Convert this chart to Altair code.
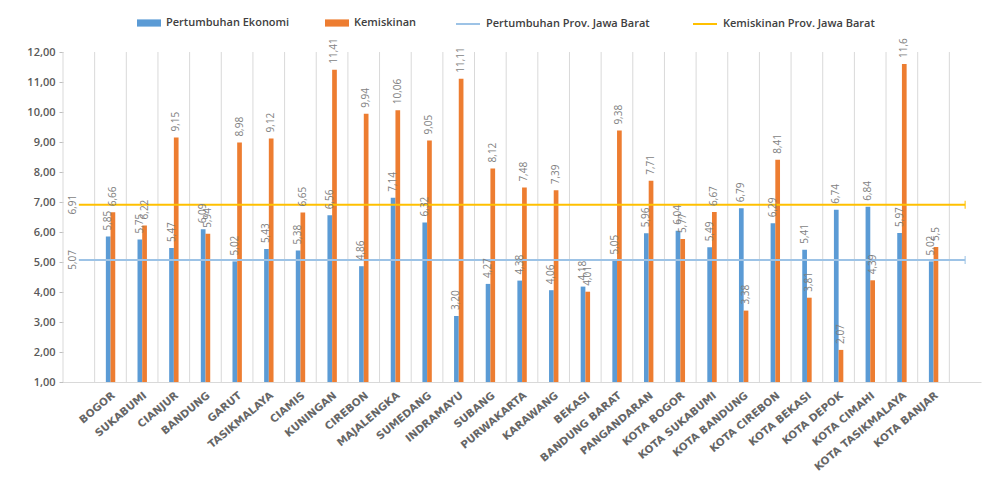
import altair as alt
import pandas as pd

regions = ["BOGOR", "SUKABUMI", "CIANJUR", "BANDUNG", "GARUT", "TASIKMALAYA", "CIAMIS",
           "KUNINGAN", "CIREBON", "MAJALENGKA", "SUMEDANG", "INDRAMAYU", "SUBANG",
           "PURWAKARTA", "KARAWANG", "BEKASI", "BANDUNG BARAT", "PANGANDARAN",
           "KOTA BOGOR", "KOTA SUKABUMI", "KOTA BANDUNG", "KOTA CIREBON", "KOTA BEKASI",
           "KOTA DEPOK", "KOTA CIMAHI", "KOTA TASIKMALAYA", "KOTA BANJAR"]
growth = [5.85, 5.75, 5.47, 6.09, 5.02, 5.43, 5.38, 6.56, 4.86, 7.14, 6.32, 3.20, 4.27,
          4.38, 4.06, 4.18, 5.05, 5.96, 6.04, 5.49, 6.79, 6.29, 5.41, 6.74, 6.84, 5.97, 5.02]
growth_labels = ["5,85", "5,75", "5,47", "6,09", "5,02", "5,43", "5,38", "6,56", "4,86",
                 "7,14", "6,32", "3,20", "4,27", "4,38", "4,06", "4,18", "5,05", "5,96",
                 "6,04", "5,49", "6,79", "6,29", "5,41", "6,74", "6,84", "5,97", "5,02"]
poverty = [6.66, 6.22, 9.15, 5.94, 8.98, 9.12, 6.65, 11.41, 9.94, 10.06, 9.05, 11.11, 8.12,
           7.48, 7.39, 4.01, 9.38, 7.71, 5.77, 6.67, 3.38, 8.41, 3.81, 2.07, 4.39, 11.6, 5.5]
poverty_labels = ["6,66", "6,22", "9,15", "5,94", "8,98", "9,12", "6,65", "11,41", "9,94",
                  "10,06", "9,05", "11,11", "8,12", "7,48", "7,39", "4,01", "9,38", "7,71",
                  "5,77", "6,67", "3,38", "8,41", "3,81", "2,07", "4,39", "11,6", "5,5"]
prov_growth = 5.07
prov_poverty = 6.91
prov_labels = ["5,07", "6,91"]
y_ticks = [1, 2, 3, 4, 5, 6, 7, 8, 9, 10, 11, 12]

bar_series = ["Pertumbuhan Ekonomi", "Kemiskinan"]
bar_colors = ["#5B9BD5", "#ED7D31"]
line_series = ["Pertumbuhan Prov. Jawa Barat", "Kemiskinan Prov. Jawa Barat"]
line_colors = ["#9DC3E6", "#FFC000"]

START, END = "START", "END"
x_domain = [START] + regions + [END]

bars = pd.DataFrame({
    "region": regions * 2,
    "series": [bar_series[0]] * len(regions) + [bar_series[1]] * len(regions),
    "value": growth + poverty,
    "label": growth_labels + poverty_labels,
})
lines = pd.DataFrame({
    "region": [START, END, START, END],
    "series": [line_series[0]] * 2 + [line_series[1]] * 2,
    "value": [prov_growth, prov_growth, prov_poverty, prov_poverty],
})
line_labels = pd.DataFrame({
    "region": [START, START],
    "value": [prov_growth, prov_poverty],
    "label": prov_labels,
})
line_ends = lines[lines["region"] == END]
grid = pd.DataFrame({"region": x_domain})

xscale = alt.Scale(domain=x_domain, paddingInner=0, paddingOuter=0)
yscale = alt.Scale(domain=[1, 12], nice=False, zero=False)
color_scale = alt.Scale(domain=bar_series, range=bar_colors)
stroke_scale = alt.Scale(domain=line_series, range=line_colors)
off_scale = alt.Scale(domain=bar_series, paddingInner=0, paddingOuter=0, range=[11.2, 20.6])

legend_common = dict(
    title=None, orient="none", direction="horizontal", columns=2, symbolSize=576,
    labelOffset=5, labelFont="Open Sans", labelFontSize=11, labelFontWeight=600,
    labelColor="#404040", labelLimit=400,
)
bar_legend = alt.Legend(legendX=74, legendY=-41, columnPadding=35,
                        symbolType="M-1,-0.3H1V0.3H-1Z", symbolStrokeWidth=0,
                        **legend_common)
line_legend = alt.Legend(legendX=392, legendY=-41, columnPadding=39,
                         symbolType="stroke", symbolStrokeWidth=2, **legend_common)

x_axis = alt.Axis(
    title=None, labelAngle=-40, labelAlign="right", labelBaseline="top", labelPadding=8,
    ticks=False, grid=False, domainColor="#D9D9D9",
    labelFont="DejaVu Sans", labelFontSize=10.5, labelFontWeight="bold", labelColor="#666666",
    labelExpr="datum.label == 'START' || datum.label == 'END' ? '' : datum.label",
    labelOverlap=False, labelLimit=300,
)
y_axis = alt.Axis(
    title=None, values=y_ticks, grid=False, domain=False, tickSize=4,
    tickColor="#BFBFBF", labelPadding=4, labelOverlap=False,
    labelFont="Open Sans", labelFontSize=11, labelFontWeight=600, labelColor="#595959",
    labelExpr="replace(format(datum.value, '.2f'), '.', ',')",
)


def X():
    return alt.X("region:N", scale=xscale, axis=x_axis)


def Y():
    return alt.Y("value:Q", scale=yscale, axis=y_axis)


gridlayer = alt.Chart(grid).mark_rule(color="#D9D9D9", strokeWidth=1).encode(
    x=alt.X("region:N", scale=xscale, axis=x_axis, bandPosition=0),
    y=alt.Y(datum=12, scale=yscale, axis=y_axis),
    y2=alt.Y2(datum=1),
)

barlayer = alt.Chart(bars).mark_bar().encode(
    x=X(),
    xOffset=alt.XOffset("series:N", scale=off_scale),
    y=Y(),
    y2=alt.Y2(datum=1),
    color=alt.Color("series:N", scale=color_scale, legend=bar_legend),
)

textlayer = alt.Chart(bars).mark_text(
    angle=270, align="left", baseline="middle", dx=6,
    font="Open Sans", fontSize=10, color="#7F7F7F",
).encode(
    x=X(),
    xOffset=alt.XOffset("series:N", scale=off_scale),
    y=Y(),
    text="label:N",
)

linelayer = alt.Chart(lines).mark_line(strokeWidth=2).encode(
    x=X(),
    y=Y(),
    stroke=alt.Stroke("series:N", scale=stroke_scale, legend=line_legend),
    detail="series:N",
)

ticklayer = alt.Chart(line_ends).mark_tick(orient="vertical", size=8, thickness=1.5).encode(
    x=X(),
    y=Y(),
    color=alt.Color("series:N", scale=stroke_scale, legend=None),
)

linetext = alt.Chart(line_labels).mark_text(
    angle=270, align="center", baseline="bottom", dy=-1,
    font="Open Sans", fontSize=10, color="#7F7F7F",
).encode(
    x=X(),
    y=Y(),
    text="label:N",
)

chart = alt.layer(gridlayer, barlayer, linelayer, ticklayer, textlayer, linetext).properties(
    width=918, height=330,
    autosize=alt.AutoSizeParams(type="none"),
    padding={"left": 63, "top": 52, "right": 1, "bottom": 106},
    background="white",
).resolve_scale(color="independent").configure_view(stroke=None)

chart.save("out.html", embed_options={"renderer": "svg", "actions": False})
